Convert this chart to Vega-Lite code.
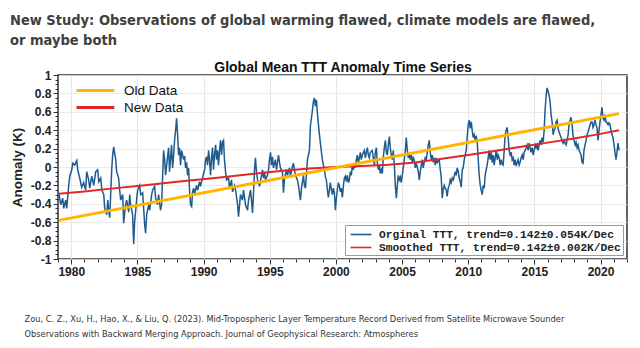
{
"$schema": "https://vega.github.io/schema/vega-lite/v6.json",
"autosize": "none",
"width": 569,
"height": 184,
"padding": {"left": 58, "top": 75, "right": 13, "bottom": 89},
"background": "white",
"config": {
  "view": {"stroke": "#333333", "strokeWidth": 1.5},
  "locale": {"number": {"decimal": ".", "thousands": ",", "grouping": [3], "currency": ["$", ""], "minus": "-"}},
  "axis": {"labelFont": "Liberation Sans", "labelFontWeight": "bold", "labelFontSize": 12, "labelColor": "#222222", "domain": false, "tickColor": "#333333", "gridColor": "#e6e6e6", "gridWidth": 1, "labelOverlap": false}
},
"title": {
  "text": ["New Study: Observations of global warming flawed, climate models are flawed,", "or maybe both"],
  "anchor": "start", "frame": "group", "dx": -48, "offset": 12,
  "font": "Liberation Sans Narrow, DejaVu Sans Condensed, Liberation Sans",
  "fontSize": 14.5, "fontWeight": "bold", "color": "#404040", "lineHeight": 20
},
"datasets": {
  "ttt": [
{"t":1979.06,"a":-0.28},{"t":1979.21,"a":-0.41},{"t":1979.36,"a":-0.34},{"t":1979.43,"a":-0.45},{"t":1979.58,"a":-0.36},{"t":1979.66,"a":-0.45},{"t":1979.81,"a":-0.20},{"t":1979.89,"a":-0.10},
{"t":1980.04,"a":-0.03},{"t":1980.11,"a":0.04},{"t":1980.26,"a":0.02},{"t":1980.42,"a":0.07},{"t":1980.49,"a":-0.03},{"t":1980.64,"a":-0.12},{"t":1980.79,"a":-0.22},{"t":1980.94,"a":-0.17},
{"t":1981.09,"a":-0.25},{"t":1981.17,"a":-0.05},{"t":1981.32,"a":-0.14},{"t":1981.40,"a":-0.23},{"t":1981.55,"a":-0.10},{"t":1981.70,"a":-0.20},{"t":1981.85,"a":-0.05},
{"t":1982.00,"a":-0.03},{"t":1982.08,"a":-0.16},{"t":1982.23,"a":-0.12},{"t":1982.31,"a":-0.25},{"t":1982.46,"a":-0.30},{"t":1982.53,"a":-0.45},{"t":1982.68,"a":-0.52},{"t":1982.76,"a":-0.36},{"t":1982.83,"a":-0.47},{"t":1982.91,"a":-0.55},{"t":1982.98,"a":-0.30},
{"t":1983.06,"a":-0.03},{"t":1983.13,"a":0.13},{"t":1983.21,"a":0.22},{"t":1983.36,"a":0.08},{"t":1983.43,"a":-0.05},{"t":1983.58,"a":-0.12},{"t":1983.66,"a":-0.25},{"t":1983.74,"a":-0.36},{"t":1983.89,"a":-0.30},{"t":1983.96,"a":-0.61},
{"t":1984.11,"a":-0.41},{"t":1984.19,"a":-0.36},{"t":1984.34,"a":-0.49},{"t":1984.42,"a":-0.30},{"t":1984.49,"a":-0.41},{"t":1984.64,"a":-0.52},{"t":1984.72,"a":-0.84},{"t":1984.79,"a":-0.60},{"t":1984.94,"a":-0.36},
{"t":1985.02,"a":-0.25},{"t":1985.17,"a":-0.20},{"t":1985.25,"a":-0.30},{"t":1985.40,"a":-0.28},{"t":1985.55,"a":-0.63},{"t":1985.62,"a":-0.72},{"t":1985.70,"a":-0.52},{"t":1985.85,"a":-0.41},{"t":1985.93,"a":-0.47},
{"t":1986.08,"a":-0.30},{"t":1986.15,"a":-0.25},{"t":1986.30,"a":-0.21},{"t":1986.38,"a":-0.34},{"t":1986.53,"a":-0.41},{"t":1986.60,"a":-0.30},{"t":1986.75,"a":-0.47},{"t":1986.83,"a":-0.41},{"t":1986.91,"a":-0.09},{"t":1986.98,"a":0.18},
{"t":1987.06,"a":0.08},{"t":1987.13,"a":-0.09},{"t":1987.21,"a":0.02},{"t":1987.36,"a":0.21},{"t":1987.43,"a":-0.05},{"t":1987.51,"a":0.10},{"t":1987.58,"a":0.24},{"t":1987.66,"a":-0.01},{"t":1987.74,"a":0.13},{"t":1987.81,"a":0.29},{"t":1987.89,"a":0.40},{"t":1987.96,"a":0.53},
{"t":1988.04,"a":0.35},{"t":1988.11,"a":0.13},{"t":1988.19,"a":0.21},{"t":1988.26,"a":0.02},{"t":1988.34,"a":0.18},{"t":1988.49,"a":0.08},{"t":1988.57,"a":0.12},{"t":1988.64,"a":-0.01},{"t":1988.72,"a":0.05},{"t":1988.79,"a":-0.09},{"t":1988.87,"a":-0.01},{"t":1988.94,"a":-0.25},
{"t":1989.02,"a":-0.41},{"t":1989.10,"a":-0.43},{"t":1989.17,"a":-0.27},{"t":1989.25,"a":-0.23},{"t":1989.32,"a":-0.30},{"t":1989.47,"a":-0.20},{"t":1989.55,"a":-0.25},{"t":1989.70,"a":-0.16},{"t":1989.77,"a":-0.21},{"t":1989.92,"a":-0.12},
{"t":1990.08,"a":-0.03},{"t":1990.15,"a":0.08},{"t":1990.23,"a":0.11},{"t":1990.30,"a":0.02},{"t":1990.38,"a":0.18},{"t":1990.45,"a":0.08},{"t":1990.53,"a":-0.09},{"t":1990.60,"a":0.10},{"t":1990.68,"a":0.21},{"t":1990.75,"a":-0.03},{"t":1990.83,"a":0.13},{"t":1990.91,"a":0.24},{"t":1990.98,"a":0.08},
{"t":1991.06,"a":0.18},{"t":1991.13,"a":0.02},{"t":1991.21,"a":0.18},{"t":1991.28,"a":0.29},{"t":1991.36,"a":0.13},{"t":1991.43,"a":0.27},{"t":1991.51,"a":0.29},{"t":1991.58,"a":0.08},{"t":1991.66,"a":-0.05},{"t":1991.74,"a":-0.14},{"t":1991.89,"a":-0.12},{"t":1991.96,"a":-0.23},
{"t":1992.11,"a":-0.14},{"t":1992.19,"a":-0.27},{"t":1992.34,"a":-0.20},{"t":1992.42,"a":-0.25},{"t":1992.57,"a":-0.41},{"t":1992.64,"a":-0.54},{"t":1992.72,"a":-0.41},{"t":1992.79,"a":-0.30},{"t":1992.94,"a":-0.36},
{"t":1993.02,"a":-0.25},{"t":1993.17,"a":-0.41},{"t":1993.32,"a":-0.47},{"t":1993.40,"a":-0.36},{"t":1993.55,"a":-0.25},{"t":1993.62,"a":-0.36},{"t":1993.70,"a":-0.50},{"t":1993.77,"a":-0.30},{"t":1993.85,"a":-0.03},{"t":1993.92,"a":0.10},
{"t":1994.00,"a":-0.05},{"t":1994.08,"a":-0.14},{"t":1994.23,"a":-0.21},{"t":1994.30,"a":-0.16},{"t":1994.45,"a":-0.03},{"t":1994.53,"a":-0.12},{"t":1994.60,"a":-0.05},{"t":1994.68,"a":-0.14},{"t":1994.83,"a":-0.09},{"t":1994.91,"a":-0.03},{"t":1994.98,"a":0.08},
{"t":1995.06,"a":0.16},{"t":1995.13,"a":0.02},{"t":1995.21,"a":0.11},{"t":1995.28,"a":-0.01},{"t":1995.43,"a":0.08},{"t":1995.51,"a":-0.03},{"t":1995.66,"a":0.13},{"t":1995.74,"a":0.05},{"t":1995.81,"a":-0.01},{"t":1995.96,"a":-0.05},
{"t":1996.04,"a":-0.28},{"t":1996.11,"a":-0.14},{"t":1996.26,"a":-0.03},{"t":1996.34,"a":-0.09},{"t":1996.49,"a":-0.01},{"t":1996.57,"a":-0.10},{"t":1996.72,"a":0.01},{"t":1996.79,"a":0.04},{"t":1996.94,"a":-0.09},
{"t":1997.09,"a":-0.14},{"t":1997.17,"a":-0.20},{"t":1997.32,"a":-0.36},{"t":1997.40,"a":-0.23},{"t":1997.55,"a":-0.09},{"t":1997.62,"a":-0.20},{"t":1997.70,"a":-0.23},{"t":1997.77,"a":-0.09},{"t":1997.85,"a":0.08},
{"t":1998.00,"a":0.18},{"t":1998.08,"a":0.46},{"t":1998.15,"a":0.53},{"t":1998.23,"a":0.62},{"t":1998.30,"a":0.71},{"t":1998.38,"a":0.75},{"t":1998.45,"a":0.66},{"t":1998.53,"a":0.73},{"t":1998.60,"a":0.59},{"t":1998.68,"a":0.46},{"t":1998.76,"a":0.35},{"t":1998.83,"a":0.26},{"t":1998.91,"a":0.16},{"t":1998.98,"a":0.08},
{"t":1999.06,"a":0.02},{"t":1999.13,"a":-0.03},{"t":1999.21,"a":-0.11},{"t":1999.28,"a":-0.14},{"t":1999.36,"a":-0.25},{"t":1999.43,"a":-0.33},{"t":1999.51,"a":-0.25},{"t":1999.58,"a":-0.17},{"t":1999.66,"a":-0.25},{"t":1999.74,"a":-0.30},{"t":1999.81,"a":-0.23},{"t":1999.89,"a":-0.28},{"t":1999.96,"a":-0.47},
{"t":2000.04,"a":-0.34},{"t":2000.11,"a":-0.25},{"t":2000.19,"a":-0.17},{"t":2000.26,"a":-0.20},{"t":2000.34,"a":-0.27},{"t":2000.41,"a":-0.23},{"t":2000.49,"a":-0.33},{"t":2000.57,"a":-0.20},{"t":2000.64,"a":-0.12},{"t":2000.72,"a":-0.10},{"t":2000.79,"a":-0.16},{"t":2000.87,"a":-0.09},{"t":2000.94,"a":-0.17},
{"t":2001.02,"a":-0.14},{"t":2001.09,"a":-0.05},{"t":2001.17,"a":-0.09},{"t":2001.24,"a":0.02},{"t":2001.32,"a":-0.03},{"t":2001.40,"a":0.04},{"t":2001.47,"a":-0.01},{"t":2001.55,"a":0.08},{"t":2001.62,"a":0.13},{"t":2001.70,"a":0.04},{"t":2001.77,"a":0.10},{"t":2001.85,"a":0.16},{"t":2001.92,"a":0.08},
{"t":2002.00,"a":0.13},{"t":2002.15,"a":0.18},{"t":2002.23,"a":0.10},{"t":2002.30,"a":0.16},{"t":2002.38,"a":0.21},{"t":2002.45,"a":0.13},{"t":2002.53,"a":0.10},{"t":2002.60,"a":0.16},{"t":2002.75,"a":0.18},{"t":2002.83,"a":0.10},{"t":2002.91,"a":0.02},{"t":2002.98,"a":0.16},
{"t":2003.06,"a":0.21},{"t":2003.13,"a":0.05},{"t":2003.21,"a":-0.03},{"t":2003.28,"a":0.02},{"t":2003.36,"a":-0.07},{"t":2003.43,"a":-0.03},{"t":2003.51,"a":-0.07},{"t":2003.58,"a":0.10},{"t":2003.66,"a":0.21},{"t":2003.74,"a":0.29},{"t":2003.81,"a":0.16},{"t":2003.89,"a":0.13},{"t":2003.96,"a":0.24},
{"t":2004.04,"a":0.33},{"t":2004.11,"a":0.21},{"t":2004.19,"a":0.13},{"t":2004.26,"a":0.08},{"t":2004.34,"a":0.18},{"t":2004.42,"a":0.02},{"t":2004.49,"a":-0.20},{"t":2004.57,"a":-0.34},{"t":2004.64,"a":-0.20},{"t":2004.72,"a":-0.09},{"t":2004.79,"a":-0.14},{"t":2004.87,"a":-0.11},{"t":2004.94,"a":-0.17},
{"t":2005.02,"a":-0.09},{"t":2005.09,"a":-0.01},{"t":2005.17,"a":0.08},{"t":2005.25,"a":0.18},{"t":2005.32,"a":0.32},{"t":2005.40,"a":0.18},{"t":2005.47,"a":0.10},{"t":2005.55,"a":0.15},{"t":2005.62,"a":0.08},{"t":2005.70,"a":0.13},{"t":2005.77,"a":0.05},{"t":2005.85,"a":0.10},{"t":2005.92,"a":0.08},
{"t":2006.00,"a":-0.01},{"t":2006.08,"a":0.04},{"t":2006.15,"a":0.00},{"t":2006.23,"a":-0.05},{"t":2006.30,"a":-0.14},{"t":2006.38,"a":-0.05},{"t":2006.45,"a":0.02},{"t":2006.53,"a":0.08},{"t":2006.60,"a":-0.01},{"t":2006.68,"a":0.05},{"t":2006.75,"a":0.10},{"t":2006.83,"a":0.08},{"t":2006.91,"a":0.16},{"t":2006.98,"a":0.24},
{"t":2007.06,"a":0.29},{"t":2007.13,"a":0.16},{"t":2007.21,"a":0.08},{"t":2007.28,"a":0.13},{"t":2007.36,"a":0.05},{"t":2007.43,"a":0.10},{"t":2007.51,"a":0.02},{"t":2007.58,"a":0.10},{"t":2007.66,"a":0.04},{"t":2007.74,"a":0.08},{"t":2007.81,"a":0.08},{"t":2007.89,"a":-0.03},{"t":2007.96,"a":-0.11},
{"t":2008.04,"a":-0.34},{"t":2008.11,"a":-0.25},{"t":2008.19,"a":-0.20},{"t":2008.26,"a":-0.23},{"t":2008.34,"a":-0.25},{"t":2008.41,"a":-0.32},{"t":2008.49,"a":-0.23},{"t":2008.57,"a":-0.20},{"t":2008.64,"a":-0.14},{"t":2008.72,"a":-0.17},{"t":2008.79,"a":-0.12},{"t":2008.87,"a":-0.14},{"t":2008.94,"a":-0.10},
{"t":2009.02,"a":-0.05},{"t":2009.09,"a":-0.09},{"t":2009.17,"a":-0.01},{"t":2009.25,"a":-0.05},{"t":2009.32,"a":-0.12},{"t":2009.40,"a":-0.16},{"t":2009.47,"a":-0.22},{"t":2009.55,"a":-0.03},{"t":2009.62,"a":-0.01},{"t":2009.70,"a":0.08},{"t":2009.77,"a":0.13},{"t":2009.85,"a":0.18},{"t":2009.92,"a":0.32},
{"t":2010.00,"a":0.46},{"t":2010.08,"a":0.51},{"t":2010.15,"a":0.42},{"t":2010.23,"a":0.49},{"t":2010.30,"a":0.40},{"t":2010.38,"a":0.32},{"t":2010.45,"a":0.35},{"t":2010.53,"a":0.29},{"t":2010.60,"a":0.34},{"t":2010.68,"a":0.27},{"t":2010.75,"a":0.10},{"t":2010.83,"a":-0.09},{"t":2010.91,"a":-0.20},{"t":2010.98,"a":-0.25},
{"t":2011.06,"a":-0.30},{"t":2011.13,"a":-0.20},{"t":2011.21,"a":-0.23},{"t":2011.28,"a":-0.09},{"t":2011.36,"a":-0.03},{"t":2011.43,"a":0.02},{"t":2011.51,"a":0.10},{"t":2011.58,"a":0.18},{"t":2011.66,"a":0.08},{"t":2011.74,"a":0.16},{"t":2011.81,"a":0.05},{"t":2011.89,"a":0.13},{"t":2011.96,"a":0.02},
{"t":2012.04,"a":0.10},{"t":2012.11,"a":0.18},{"t":2012.19,"a":0.08},{"t":2012.26,"a":0.13},{"t":2012.34,"a":0.10},{"t":2012.42,"a":0.02},{"t":2012.49,"a":0.08},{"t":2012.57,"a":0.03},{"t":2012.64,"a":0.02},{"t":2012.72,"a":0.18},{"t":2012.79,"a":0.35},{"t":2012.87,"a":0.40},{"t":2012.94,"a":0.43},
{"t":2013.02,"a":0.32},{"t":2013.09,"a":0.18},{"t":2013.17,"a":0.13},{"t":2013.25,"a":0.16},{"t":2013.32,"a":0.08},{"t":2013.40,"a":0.10},{"t":2013.47,"a":0.02},{"t":2013.55,"a":0.08},{"t":2013.62,"a":0.01},{"t":2013.70,"a":0.05},{"t":2013.77,"a":0.08},{"t":2013.85,"a":0.02},{"t":2013.92,"a":0.05},
{"t":2014.00,"a":0.10},{"t":2014.08,"a":0.13},{"t":2014.15,"a":0.08},{"t":2014.23,"a":0.16},{"t":2014.30,"a":0.18},{"t":2014.38,"a":0.21},{"t":2014.45,"a":0.24},{"t":2014.53,"a":0.18},{"t":2014.60,"a":0.26},{"t":2014.68,"a":0.21},{"t":2014.75,"a":0.16},{"t":2014.83,"a":0.21},{"t":2014.91,"a":0.13},{"t":2014.98,"a":0.18},
{"t":2015.06,"a":0.24},{"t":2015.13,"a":0.21},{"t":2015.21,"a":0.24},{"t":2015.28,"a":0.18},{"t":2015.36,"a":0.24},{"t":2015.43,"a":0.29},{"t":2015.51,"a":0.24},{"t":2015.58,"a":0.32},{"t":2015.66,"a":0.27},{"t":2015.74,"a":0.40},{"t":2015.81,"a":0.62},{"t":2015.89,"a":0.78},{"t":2015.96,"a":0.86},
{"t":2016.04,"a":0.82},{"t":2016.11,"a":0.78},{"t":2016.19,"a":0.71},{"t":2016.26,"a":0.57},{"t":2016.34,"a":0.49},{"t":2016.42,"a":0.35},{"t":2016.49,"a":0.40},{"t":2016.57,"a":0.42},{"t":2016.64,"a":0.49},{"t":2016.72,"a":0.51},{"t":2016.79,"a":0.42},{"t":2016.87,"a":0.38},{"t":2016.94,"a":0.35},
{"t":2017.02,"a":0.32},{"t":2017.09,"a":0.29},{"t":2017.17,"a":0.26},{"t":2017.25,"a":0.29},{"t":2017.32,"a":0.26},{"t":2017.40,"a":0.24},{"t":2017.47,"a":0.29},{"t":2017.55,"a":0.35},{"t":2017.62,"a":0.46},{"t":2017.70,"a":0.51},{"t":2017.77,"a":0.54},{"t":2017.85,"a":0.46},{"t":2017.92,"a":0.35},
{"t":2018.00,"a":0.29},{"t":2018.08,"a":0.24},{"t":2018.15,"a":0.27},{"t":2018.23,"a":0.21},{"t":2018.30,"a":0.24},{"t":2018.38,"a":0.18},{"t":2018.45,"a":0.16},{"t":2018.53,"a":0.13},{"t":2018.60,"a":0.05},{"t":2018.68,"a":0.04},{"t":2018.75,"a":0.18},{"t":2018.83,"a":0.24},{"t":2018.91,"a":0.29},{"t":2018.98,"a":0.35},
{"t":2019.06,"a":0.38},{"t":2019.13,"a":0.42},{"t":2019.21,"a":0.46},{"t":2019.28,"a":0.49},{"t":2019.36,"a":0.49},{"t":2019.43,"a":0.43},{"t":2019.51,"a":0.46},{"t":2019.58,"a":0.51},{"t":2019.66,"a":0.46},{"t":2019.74,"a":0.42},{"t":2019.81,"a":0.29},{"t":2019.89,"a":0.40},{"t":2019.96,"a":0.49},
{"t":2020.04,"a":0.57},{"t":2020.11,"a":0.65},{"t":2020.19,"a":0.53},{"t":2020.26,"a":0.51},{"t":2020.34,"a":0.57},{"t":2020.41,"a":0.49},{"t":2020.49,"a":0.48},{"t":2020.57,"a":0.46},{"t":2020.64,"a":0.48},{"t":2020.72,"a":0.46},{"t":2020.79,"a":0.40},{"t":2020.87,"a":0.35},{"t":2020.94,"a":0.32},
{"t":2021.02,"a":0.24},{"t":2021.09,"a":0.16},{"t":2021.17,"a":0.08},{"t":2021.24,"a":0.16},{"t":2021.32,"a":0.26},{"t":2021.40,"a":0.18}
  ],
  "trend": [
{"t":1979.06,"a":-0.29,"legend":"New Data"},{"t":1981,"a":-0.265,"legend":"New Data"},{"t":1983,"a":-0.235,"legend":"New Data"},{"t":1985.4,"a":-0.2,"legend":"New Data"},{"t":1988,"a":-0.16,"legend":"New Data"},{"t":1991.6,"a":-0.11,"legend":"New Data"},{"t":1994,"a":-0.07,"legend":"New Data"},{"t":1996,"a":-0.04,"legend":"New Data"},{"t":1998,"a":-0.015,"legend":"New Data"},{"t":2000,"a":0.0,"legend":"New Data"},{"t":2002,"a":0.01,"legend":"New Data"},{"t":2004,"a":0.025,"legend":"New Data"},{"t":2006,"a":0.05,"legend":"New Data"},{"t":2008,"a":0.09,"legend":"New Data"},{"t":2010,"a":0.13,"legend":"New Data"},{"t":2012,"a":0.175,"legend":"New Data"},{"t":2014,"a":0.22,"legend":"New Data"},{"t":2016,"a":0.265,"legend":"New Data"},{"t":2018,"a":0.31,"legend":"New Data"},{"t":2020,"a":0.36,"legend":"New Data"},{"t":2021.4,"a":0.4,"legend":"New Data"},
{"t":1979.06,"a":-0.58,"legend":"Old Data"},{"t":2021.4,"a":0.58,"legend":"Old Data"}
  ]
},
"layer": [
  {
    "mark": {"type": "rule", "color": "#8c8c8c", "strokeWidth": 2},
    "encoding": {"y": {"datum": 0, "type": "quantitative", "scale": {"domain": [-1, 1], "nice": false},
        "axis": {"values": [-1,-0.95,-0.9,-0.85,-0.8,-0.75,-0.7,-0.65,-0.6,-0.55,-0.5,-0.45,-0.4,-0.35,-0.3,-0.25,-0.2,-0.15,-0.1,-0.05,0,0.05,0.1,0.15,0.2,0.25,0.3,0.35,0.4,0.45,0.5,0.55,0.6,0.65,0.7,0.75,0.8,0.85,0.9,0.95,1],
          "tickCount": 100,
          "labelExpr": "abs(datum.value*5 - round(datum.value*5)) < 0.001 ? format(datum.value, '.1~f') : ''", "labelPadding": 2, "labelOverlap": false, "labelFlush": false,
          "tickSize": {"condition": {"test": "abs(datum.value*5 - round(datum.value*5)) < 0.001", "value": 5}, "value": 3},
          "grid": true,
          "gridOpacity": {"condition": {"test": "abs(datum.value*5 - round(datum.value*5)) < 0.001", "value": 0.8}, "value": 0},
          "title": "Anomaly (K)", "titleFont": "Liberation Sans", "titleFontSize": 13.5, "titleFontWeight": "bold", "titleColor": "#222222",
          "titleX": -41, "titleY": 92, "titleAngle": 270, "titleAlign": "center", "titleBaseline": "middle"}}}
  },
  {
    "data": {"name": "ttt"},
    "mark": {"type": "line", "strokeWidth": 1.5, "clip": true},
    "encoding": {
      "x": {"field": "t", "type": "quantitative", "scale": {"domain": [1979, 2022], "nice": false, "zero": false},
        "axis": {"values": [1979,1980,1981,1982,1983,1984,1985,1986,1987,1988,1989,1990,1991,1992,1993,1994,1995,1996,1997,1998,1999,2000,2001,2002,2003,2004,2005,2006,2007,2008,2009,2010,2011,2012,2013,2014,2015,2016,2017,2018,2019,2020,2021,2022],
          "tickCount": 100,
          "format": "d", "labelExpr": "datum.value % 5 === 0 ? datum.label : ''", "labelPadding": 2, "labelFlush": false, "labelOverlap": false,
          "tickSize": {"condition": {"test": "datum.value % 5 === 0", "value": 5}, "value": 3},
          "gridOpacity": {"condition": {"test": "datum.value % 5 === 0", "value": 1}, "value": 0},
          "grid": true,
          "title": ["Zou, C. Z., Xu, H., Hao, X., & Liu, Q. (2023). Mid-Tropospheric Layer Temperature Record Derived from Satellite Microwave Sounder", "Observations with Backward Merging Approach. Journal of Geophysical Research: Atmospheres"],
          "titleFont": "Liberation Sans Narrow, DejaVu Sans Condensed, Liberation Sans", "titleFontSize": 9.2, "titleFontWeight": "normal", "titleColor": "#333333",
          "titleAnchor": "start", "titleAlign": "left", "titleBaseline": "alphabetic", "titleX": -34, "titleY": 62, "titleLineHeight": 15}},
      "y": {"field": "a", "type": "quantitative"},
      "color": {"datum": "\u00a0Orginal TTT, trend=0.142\u00b10.054K/Dec", "type": "nominal",
        "scale": {"domain": ["\u00a0Orginal TTT, trend=0.142\u00b10.054K/Dec", "Smoothed TTT, trend=0.142\u00b10.002K/Dec"], "range": ["#1f5b8e", "#e3262a"]},
        "legend": {"title": null, "orient": "none", "legendX": 287, "legendY": 150, "symbolType": "M-0.6,0H2.6", "symbolSize": 169, "symbolStrokeWidth": 1.6,
          "labelFont": "Liberation Mono", "labelFontWeight": "bold", "labelFontSize": 11.2, "labelColor": "#222222", "labelLimit": 400, "labelOffset": 17,
          "rowPadding": 0, "padding": 2, "strokeColor": "#9a9a9a", "fillColor": "white", "cornerRadius": 0}}
    }
  },
  {
    "data": {"name": "trend"},
    "mark": {"type": "line", "clip": true},
    "encoding": {
      "x": {"field": "t", "type": "quantitative",
        "axis": {"orient": "top", "labels": false, "ticks": false, "grid": false, "domain": false,
          "title": "Global Mean TTT Anomaly Time Series", "titleFont": "Liberation Sans", "titleFontSize": 14, "titleFontWeight": "bold", "titleColor": "#111111",
          "titleX": 284.5, "titleY": -4, "titleAlign": "center", "titleBaseline": "alphabetic", "titleAnchor": "middle"}},
      "y": {"field": "a", "type": "quantitative"},
      "color": {"field": "legend", "type": "nominal",
        "scale": {"domain": ["Old Data", "New Data"], "range": ["#ffb400", "#e3262a"]},
        "legend": {"title": null, "orient": "none", "legendX": 17, "legendY": 5, "symbolType": "M-1,0H3.2", "symbolSize": 324, "symbolStrokeWidth": 3,
          "labelFont": "Liberation Sans", "labelFontSize": 13.5, "labelColor": "#111111", "labelOffset": 28, "rowPadding": 0, "padding": 0}},
      "strokeWidth": {"field": "legend", "type": "nominal", "scale": {"domain": ["Old Data", "New Data"], "range": [3, 2]}, "legend": null},
      "order": {"field": "t"}
    }
  }
],
"resolve": {"scale": {"color": "independent"}, "axis": {"x": "independent"}}
}
